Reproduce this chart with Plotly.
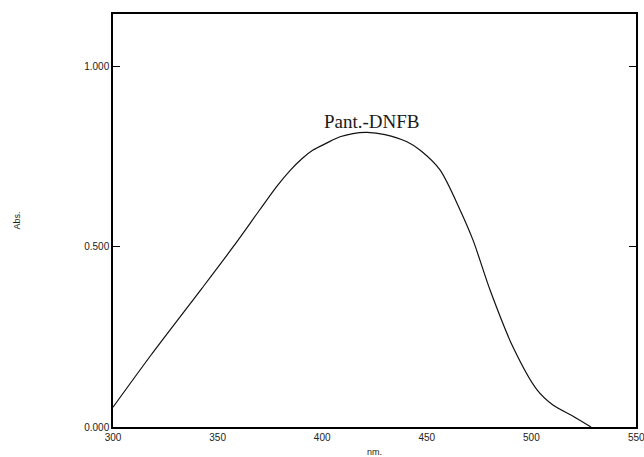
import plotly.graph_objects as go

wavelength_nm = [300.0, 318.2, 342.5, 357.4, 370.0, 378.4, 384.6, 390.3, 395.6, 402.3,
                 408.5, 414.7, 421.4, 430.0, 440.5, 447.0, 456.3, 465.9, 472.1, 480.2,
                 491.2, 502.7, 510.3, 519.9, 528.5]
absorbance = [0.055, 0.200, 0.385, 0.500, 0.602, 0.669, 0.712, 0.745, 0.769, 0.789,
              0.806, 0.815, 0.818, 0.812, 0.792, 0.768, 0.714, 0.603, 0.519, 0.381,
              0.222, 0.103, 0.061, 0.030, 0.0]

y_ticks = [0.0, 0.5, 1.0]
x_ticks = [300, 350, 400, 450, 500, 550]
label_text = "Pant.-DNFB"
label_pos = (423.8, 0.849)

fig = go.Figure()
fig.add_trace(go.Scatter(x=wavelength_nm, y=absorbance, mode="lines",
                         line=dict(color="#111111", width=1.2, shape="spline", smoothing=0.8),
                         showlegend=False, hoverinfo="skip"))

fig.add_annotation(x=label_pos[0], y=label_pos[1], text=label_text, showarrow=False,
                   font=dict(family="Liberation Serif, Times New Roman, serif", size=19, color="#1a1a1a"))

# last x tick label, which the reference shows clipped at the right edge of the picture
fig.add_annotation(x=x_ticks[-1], xref="x", y=0, yref="paper", yshift=-10, yanchor="middle",
                   text=str(x_ticks[-1]), showarrow=False,
                   font=dict(family="Liberation Sans, Arial, sans-serif", size=10, color="#222222"))

fig.update_layout(
    width=644, height=457,
    margin=dict(l=113, r=8, t=14, b=30),
    paper_bgcolor="white", plot_bgcolor="white",
    font=dict(family="Liberation Sans, Arial, sans-serif", size=10, color="#222222"),
    xaxis=dict(range=[300, 550], tickvals=x_ticks[:-1], ticks="", showgrid=False, zeroline=False,
               showline=True, linecolor="black", linewidth=1.5, mirror=True, automargin=False,
               title=dict(text="nm.", standoff=8, font=dict(size=9))),
    yaxis=dict(range=[0, 1.147], tickvals=y_ticks, tickformat=".3f", ticks="inside", ticklen=7,
               tickcolor="black", showgrid=False, zeroline=False, automargin=False,
               showline=True, linecolor="black", linewidth=1.5, mirror="ticks",
               title=dict(text="Abs.", standoff=62, font=dict(size=9))),
)

fig.write_html("out.html",
               post_script="document.body.style.margin='0';document.body.style.overflow='hidden';")
